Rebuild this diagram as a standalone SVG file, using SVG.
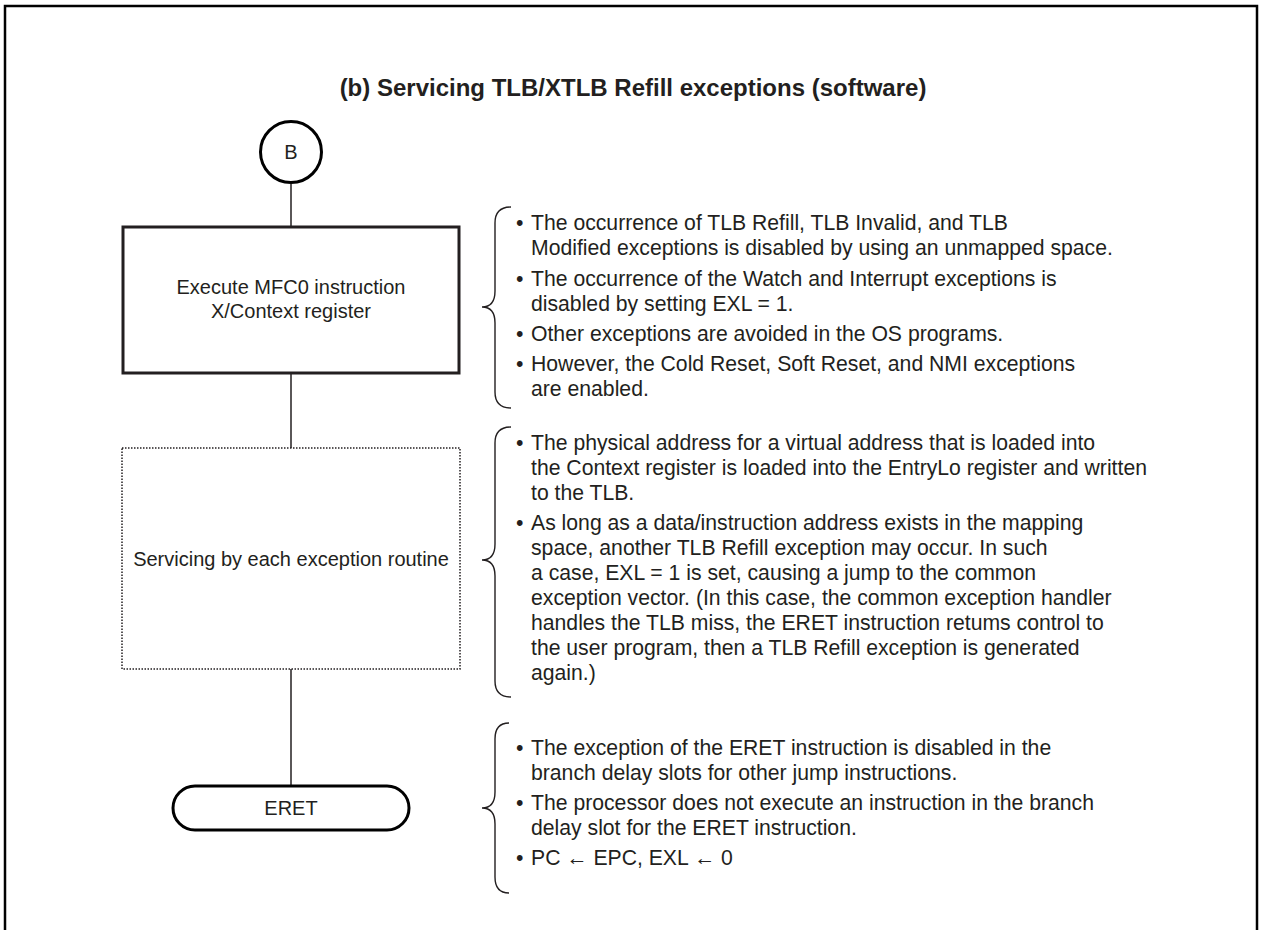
<svg xmlns="http://www.w3.org/2000/svg" width="1265" height="930" viewBox="0 0 1265 930">
<style>
text{font-family:"Liberation Sans",Arial,sans-serif;fill:#231f20}
.t{font-size:20px}
.n{font-size:21.2px}
.c{text-anchor:middle}
.title{font-size:24px;font-weight:bold}
.conn{stroke:#231f20;stroke-width:1.5;fill:none}
.brace{stroke:#231f20;stroke-width:1.4;fill:none}
</style>
<rect x="5" y="6" width="1252" height="960" fill="#fff" stroke="#000" stroke-width="2.5"/>
<text class="title c" x="633" y="96">(b)  Servicing TLB/XTLB Refill exceptions (software)</text>
<g id="connectors">
<line class="conn" x1="291" y1="184" x2="291" y2="226"/>
<line class="conn" x1="291" y1="374" x2="291" y2="448"/>
<line class="conn" x1="291" y1="669" x2="291" y2="786"/>
</g>
<g id="nodeB">
<circle cx="291" cy="152" r="30.5" fill="#fff" stroke="#000" stroke-width="3"/>
<text class="t c" x="291" y="159">B</text>
</g>
<g id="nodeMFC0">
<rect x="123" y="227" width="336" height="146" fill="#fff" stroke="#231f20" stroke-width="3"/>
<text class="t c" x="291" y="294">Execute MFC0 instruction</text>
<text class="t c" x="291" y="318">X/Context register</text>
</g>
<g id="nodeService">
<rect x="122" y="448" width="338" height="221" fill="#fff" stroke="#231f20" stroke-width="1.5" stroke-dasharray="1.5 1.5"/>
<text class="t c" x="291" y="566">Servicing by each exception routine</text>
</g>
<g id="nodeERET">
<rect x="173" y="786" width="236" height="44" rx="22" ry="22" fill="#fff" stroke="#000" stroke-width="3"/>
<text class="t c" x="291" y="815">ERET</text>
</g>
<g id="note1">
<path class="brace" d="M511 207 Q495 207 495 223 L495 291 Q495 307 482 307 Q495 307 495 323 L495 392 Q495 408 511 408"/>
<text class="n" x="516" y="230">•</text><text class="n" x="531" y="230">The occurrence of TLB Refill, TLB Invalid, and TLB</text>
<text class="n" x="531" y="255">Modified exceptions is disabled by using an unmapped space.</text>
<text class="n" x="516" y="286">•</text><text class="n" x="531" y="286">The occurrence of the Watch and Interrupt exceptions is</text>
<text class="n" x="531" y="311">disabled by setting EXL = 1.</text>
<text class="n" x="516" y="341">•</text><text class="n" x="531" y="341">Other exceptions are avoided in the OS programs.</text>
<text class="n" x="516" y="371">•</text><text class="n" x="531" y="371">However, the Cold Reset, Soft Reset, and NMI exceptions</text>
<text class="n" x="531" y="396">are enabled.</text>
</g>
<g id="note2">
<path class="brace" d="M511 427 Q495 427 495 443 L495 544 Q495 560 482 560 Q495 560 495 576 L495 681 Q495 697 511 697"/>
<text class="n" x="516" y="450">•</text><text class="n" x="531" y="450">The physical address for a virtual address that is loaded into</text>
<text class="n" x="531" y="475">the Context register is loaded into the EntryLo register and written</text>
<text class="n" x="531" y="500">to the TLB.</text>
<text class="n" x="516" y="530">•</text><text class="n" x="531" y="530">As long as a data/instruction address exists in the mapping</text>
<text class="n" x="531" y="555">space, another TLB Refill exception may occur. In such</text>
<text class="n" x="531" y="580">a case, EXL = 1 is set, causing a jump to the common</text>
<text class="n" x="531" y="605">exception vector. (In this case, the common exception handler</text>
<text class="n" x="531" y="630">handles the TLB miss, the ERET instruction retums control to</text>
<text class="n" x="531" y="655">the user program, then a TLB Refill exception is generated</text>
<text class="n" x="531" y="680">again.)</text>
</g>
<g id="note3">
<path class="brace" d="M509 723 Q495 723 495 739 L495 792 Q495 808 482 808 Q495 808 495 824 L495 877 Q495 893 509 893"/>
<text class="n" x="516" y="755">•</text><text class="n" x="531" y="755">The exception of the ERET instruction is disabled in the</text>
<text class="n" x="531" y="780">branch delay slots for other jump instructions.</text>
<text class="n" x="516" y="810">•</text><text class="n" x="531" y="810">The processor does not execute an instruction in the branch</text>
<text class="n" x="531" y="835">delay slot for the ERET instruction.</text>
<text class="n" x="516" y="865">•</text><text class="n" x="531" y="865">PC ← EPC, EXL ← 0</text>
</g>
</svg>
